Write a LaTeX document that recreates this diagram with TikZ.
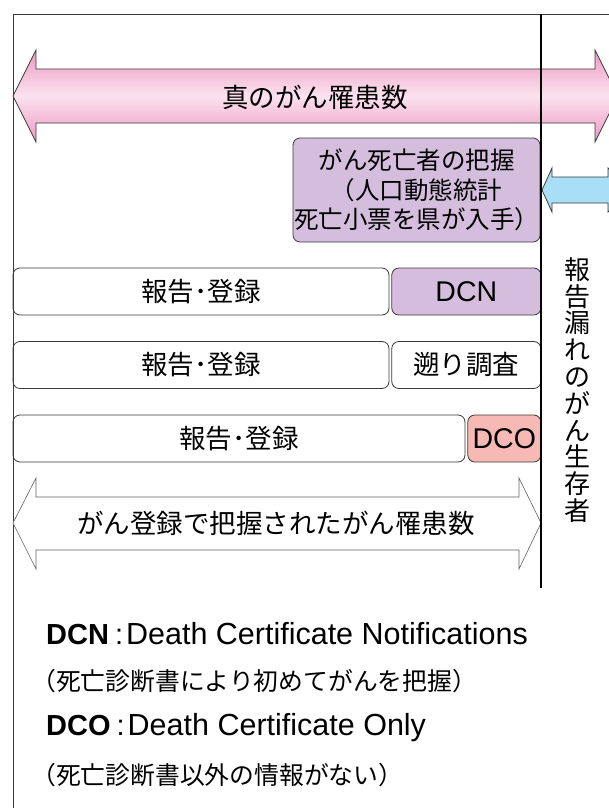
\documentclass[tikz,border=0pt]{standalone}
\usepackage{fontspec}
\setmainfont{Noto Sans CJK JP}
\newfontfamily\latinfont{Liberation Sans}
\usetikzlibrary{positioning}
\definecolor{pinkedge}{HTML}{EE98C2}
\definecolor{pinkmid}{HTML}{FBE2EE}
\definecolor{lilac}{HTML}{D5BEDD}
\definecolor{salmon}{HTML}{F6B9B4}
\definecolor{skyblue}{HTML}{A8DEF6}
\definecolor{ink}{HTML}{3A3A3A}
\tikzset{box/.style = {draw = ink, rounded corners = 7, line width = 0.8,
                       minimum height = 47, inner sep = 0,
                       font = \fontsize{26.5}{30}\selectfont}}
\tikzset{bigarrow/.style = {draw = ink, line width = 0.8, line join = miter}}
\tikzset{legend/.style = {anchor = west, inner sep = 0}}

\begin{document}
\begin{tikzpicture}[x = 1pt, y = -1pt]
  \useasboundingbox (0, 0) rectangle (609, 808);
  \clip (0, 0) rectangle (609, 808);
  \draw [ink, line width = 0.8] (13, 808) -- (13, 14) -- (609, 14);
  % true incidence
  \draw [bigarrow, top color = pinkedge, bottom color = pinkedge, middle color = pinkmid]
    (13, 96) -- (36, 50) -- (36, 69) -- (595, 69) -- (595, 50) -- (618, 96)
    -- (595, 142) -- (595, 123) -- (36, 123) -- (36, 142) -- cycle;
  \node (true) at (315, 97) [font = \fontsize{26.5}{30}\selectfont] {真のがん罹患数};
  % vital statistics
  \draw [bigarrow, fill = skyblue]
    (542, 190) -- (552, 168) -- (552, 177) -- (608, 177) -- (608, 168) -- (632, 190)
    -- (608, 212) -- (608, 203) -- (552, 203) -- (552, 212) -- cycle;
  \node (deaths) at (416.5, 190) [box, fill = lilac, minimum width = 247, minimum height = 104,
                                  align = center, font = \fontsize{24.5}{29.5}\selectfont]
    {がん死亡者の把握\\（人口動態統計\\死亡小票を県が入手）};
  % registration rows
  \node (reg1) at (201, 291.5) [box, minimum width = 376] {報告･登録};
  \node (dcn) [box, fill = lilac, minimum width = 149, right = 2pt of reg1]
    {\latinfont\fontsize{28.5}{30}\selectfont DCN};
  \node (reg2) at (201, 365) [box, minimum width = 376] {報告･登録};
  \node (back) [box, minimum width = 149, right = 2pt of reg2] {遡り調査};
  \node (reg3) at (239, 438.5) [box, minimum width = 452] {報告･登録};
  \node (dco) [box, fill = salmon, minimum width = 73, right = 2pt of reg3]
    {\latinfont\fontsize{28.5}{30}\selectfont DCO};
  % registered incidence
  \draw [bigarrow, fill = white, draw = ink!80, line width = 0.6]
    (13, 523) -- (36, 478) -- (36, 497) -- (519, 497) -- (519, 478) -- (541, 523)
    -- (519, 569) -- (519, 550) -- (36, 550) -- (36, 569) -- cycle;
  \node (caught) at (276, 523) [font = \fontsize{26.5}{30}\selectfont] {がん登録で把握されたがん罹患数};
  \draw [black, line width = 1.3] (541, 14) -- (541, 588);
  \node (missed) at (577, 390) [align = center, inner sep = 0, font = \fontsize{26}{26.8}\selectfont]
    {報\\告\\漏\\れ\\の\\が\\ん\\生\\存\\者};
  % legend
  \node (keydcn) at (46, 634) [legend, font = \latinfont\fontsize{30.5}{32}\selectfont]
    {\fontsize{29}{32}\selectfont\bfseries DCN\mdseries\hspace{6pt}:\hspace{3pt}\fontsize{30.5}{32}\selectfont Death Certificate Notifications};
  \node (notedcn) at (31, 681) [legend, font = \fontsize{24.8}{28}\selectfont]
    {（死亡診断書により初めてがんを把握）};
  \node (keydco) at (46, 728) [legend, font = \latinfont\fontsize{30.5}{32}\selectfont]
    {\fontsize{29}{32}\selectfont\bfseries DCO\mdseries\hspace{6pt}:\hspace{3pt}\fontsize{30.5}{32}\selectfont Death Certificate Only};
  \node (notedco) at (31, 775) [legend, font = \fontsize{24.8}{28}\selectfont]
    {（死亡診断書以外の情報がない）};
\end{tikzpicture}
\end{document}
